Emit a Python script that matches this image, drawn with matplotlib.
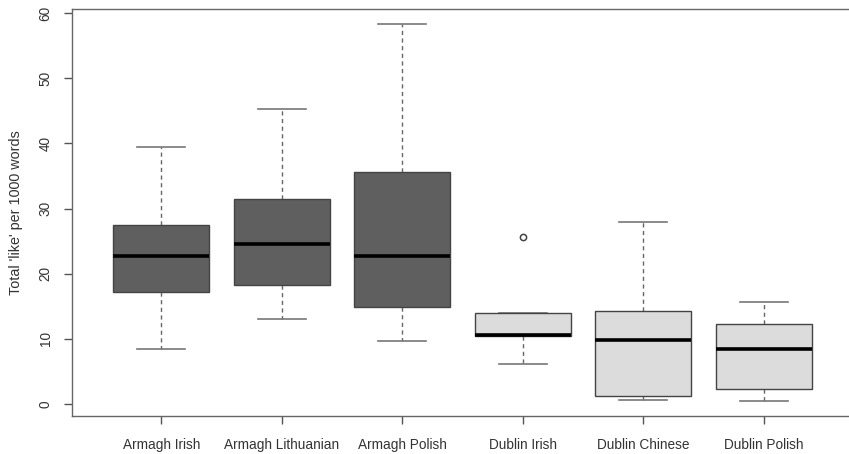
import matplotlib
matplotlib.use("Agg")
import matplotlib.pyplot as plt

plt.rcParams['font.family'] = ['Liberation Sans', 'DejaVu Sans']

groups = ["Armagh Irish", "Armagh Lithuanian", "Armagh Polish",
          "Dublin Irish", "Dublin Chinese", "Dublin Polish"]
whisker_low = [8.5, 13.0, 9.6, 6.1, 0.6, 0.4]
q1 = [17.2, 18.3, 14.9, 10.5, 1.2, 2.35]
median = [22.7, 24.5, 22.7, 10.6, 9.8, 8.4]
q3 = [27.4, 31.4, 35.6, 14.0, 14.2, 12.3]
whisker_high = [39.5, 45.2, 58.3, 14.0, 28.0, 15.7]
outliers = [[], [], [], [25.7], [], []]
fills = ["#5f5f5f", "#5f5f5f", "#5f5f5f", "#dcdcdc", "#dcdcdc", "#dcdcdc"]

stats = []
for i, g in enumerate(groups):
    stats.append(dict(label=g, whislo=whisker_low[i], q1=q1[i], med=median[i],
                      q3=q3[i], whishi=whisker_high[i], fliers=outliers[i]))

fig = plt.figure(figsize=(8.49, 4.54), dpi=100)
ax = fig.add_axes([72/849, 38/454, 781/849, 407.5/454])

bp = ax.bxp(stats, positions=range(1, 7), widths=0.8, patch_artist=True,
            boxprops=dict(edgecolor="#444444", linewidth=1.0),
            medianprops=dict(color="black", linewidth=2.6),
            whiskerprops=dict(color="#666666", linewidth=1.0, linestyle=(0, (3, 2.5))),
            capprops=dict(color="#777777", linewidth=1.2),
            capwidths=0.4,
            flierprops=dict(marker="o", markersize=4.5, markerfacecolor="none",
                            markeredgecolor="#444444", markeredgewidth=1.1))
for patch, c in zip(bp["boxes"], fills):
    patch.set_facecolor(c)
    patch.set_zorder(3)
for m in bp["medians"]:
    m.set_zorder(4)
for cap in bp["caps"]:
    cap.set_zorder(2)

ax.set_xlim(0.26, 6.74)
ax.set_ylim(-1.84, 60.69)
ax.set_yticks([0, 10, 20, 30, 40, 50, 60])
ax.set_xticks(range(1, 7))
ax.set_xticklabels(groups)
for lab in ax.get_yticklabels():
    lab.set_rotation(90)
    lab.set_va("center")
ax.tick_params(axis="both", colors="#555555", labelcolor="#333333",
               labelsize=9.8, length=6, width=1.0, direction="out")
ax.tick_params(axis="x", pad=10)
ax.tick_params(axis="y", pad=8)
for s in ax.spines.values():
    s.set_color("#666666")
    s.set_linewidth(1.0)
ax.set_ylabel("Total 'like' per 1000 words", fontsize=10.4, color="#333333", labelpad=11)

fig.savefig("out.png", dpi=100)
